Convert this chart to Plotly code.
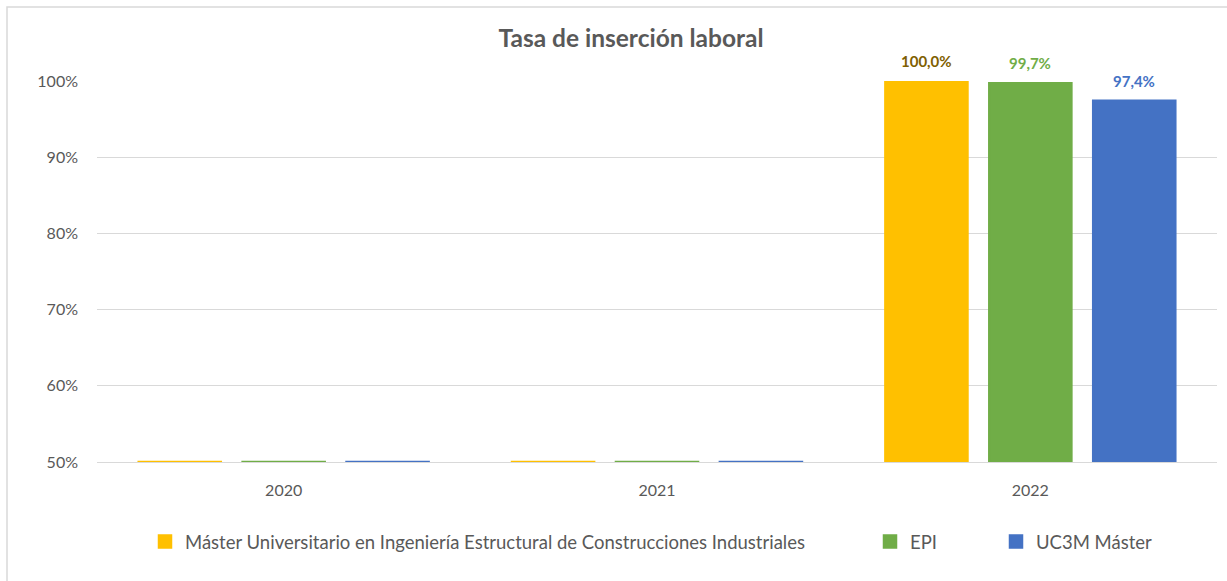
import plotly.graph_objects as go

years = ["2020", "2021", "2022"]
series_names = [
    "Máster Universitario en Ingeniería Estructural de Construcciones Industriales",
    "EPI",
    "UC3M Máster",
]
master_vals = [0.0, 0.0, 1.000]
epi_vals = [0.0, 0.0, 0.997]
uc3m_vals = [0.0, 0.0, 0.974]

bar_colors = ["#FFC000", "#70AD47", "#4472C4"]
label_colors = ["#7F6000", "#70AD47", "#4472C4"]

YMIN, YMAX = 0.5, 1.0
W, H = 1227, 581
L, R, T, B = 97, 10, 81, 119
FONT = "Lato"
pw = W - L - R
ph = H - T - B

# legend left edges (px) for the three separate legends
legend_px = [145, 870, 996]
legend_ids = ["legend", "legend2", "legend3"]

fig = go.Figure()
all_vals = [master_vals, epi_vals, uc3m_vals]
for name, vals, col, lid in zip(series_names, all_vals, bar_colors, legend_ids):
    # Excel clamps values below the axis minimum to the axis (thin line)
    shown = [max(v, YMIN) for v in vals]
    fig.add_trace(go.Bar(
        x=years, y=shown, name=name, legend=lid,
        marker=dict(color=col, line=dict(color=col, width=2.5)),
        hoverinfo="skip",
    ))

slot_px = 104
annotations = []
for i, (vals, lc) in enumerate(zip(all_vals, label_colors)):
    for k, v in enumerate(vals):
        if v >= YMIN:
            annotations.append(dict(
                x=k, y=v, xref="x", yref="y",
                text="<b>" + f"{v*100:.1f}%".replace(".", ",") + "</b>",
                showarrow=False, yanchor="bottom", yshift=9,
                xshift=(i - 1) * slot_px,
                font=dict(family=FONT, size=15, color=lc),
            ))

shapes = [dict(
    type="rect", xref="paper", yref="paper",
    x0=(7 - L) / pw, x1=(W + 5 - L) / pw,
    y0=-(H + 5 - T - ph) / ph, y1=(T - 7) / ph + 1,
    line=dict(color="#D9D9D9", width=1.5), fillcolor="rgba(0,0,0,0)",
    layer="below",
)]

legend_y = -(542 - T - ph) / ph
legend_common = dict(orientation="h", xanchor="left", y=legend_y, yanchor="middle",
                     font=dict(size=18.5, color="#595959"), bgcolor="rgba(0,0,0,0)")

fig.update_layout(
    width=W, height=H,
    margin=dict(l=L, r=R, t=T, b=B),
    paper_bgcolor="white", plot_bgcolor="white",
    separators=",.",
    barmode="group", bargap=0.165, bargroupgap=0.21,
    title=dict(text="<b>Tasa de inserción laboral</b>", xref="container",
               x=631 / W, xanchor="center",
               y=1 - 38 / H, yanchor="middle",
               font=dict(family=FONT, size=24.5, color="#595959")),
    font=dict(family=FONT, size=16, color="#595959"),
    xaxis=dict(type="category", categoryorder="array", categoryarray=years,
               range=[-0.5, len(years) - 0.5], autorange=False,
               showgrid=False, showline=True,
               linecolor="#D9D9D9", linewidth=1,
               ticks="", ticklabelstandoff=14,
               tickfont=dict(size=16, color="#595959")),
    yaxis=dict(range=[YMIN, YMAX], autorange=False, dtick=0.1, tickformat=".0%",
               showgrid=True, gridcolor="#D9D9D9", gridwidth=1,
               zeroline=False, showline=False, ticks="",
               ticklabelstandoff=18,
               tickfont=dict(size=16, color="#595959")),
    legend=dict(x=(legend_px[0] - L) / pw, **legend_common),
    legend2=dict(x=(legend_px[1] - L) / pw, **legend_common),
    legend3=dict(x=(legend_px[2] - L) / pw, **legend_common),
    annotations=annotations,
    shapes=shapes,
    showlegend=True,
)

fig.write_html("out.html", post_script="document.body.style.margin='0';",
               config={"displayModeBar": False})
